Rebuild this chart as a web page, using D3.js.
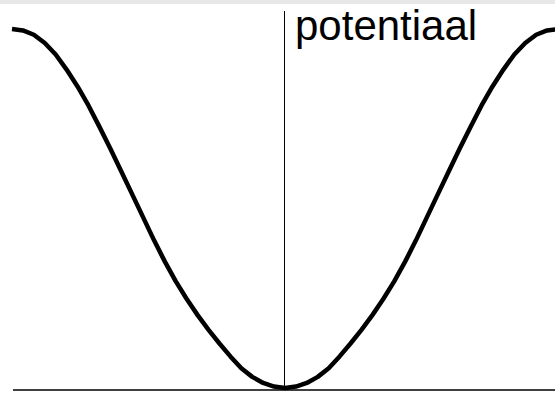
<!DOCTYPE html>
<html>
<head>
<meta charset="utf-8">
<script src="https://cdn.jsdelivr.net/npm/d3@7"></script>
<style>
  body { margin: 0; background: #fff; }
  svg { display: block; }
</style>
</head>
<body>
<div id="chart"></div>
<script>
// positions along the axis (left to right), symmetric around 0
var positions = d3.range(-25, 26);

// potential, one half; 0 at the centre, 1 at the edges
var halfPotential = [
    0.000, 0.004, 0.014, 0.031, 0.055, 0.088, 0.124, 0.162, 0.203, 0.248,
    0.297, 0.352, 0.412, 0.476, 0.540, 0.604, 0.667, 0.728, 0.787, 0.840,
    0.887, 0.929, 0.961, 0.984, 0.996, 1.000
];

var potential = positions.map(p => halfPotential[Math.abs(p)]);

var axisLabel = "potentiaal";

function init() {
    var w = 555,
        h = 393;

    var svg = d3
        .select("#chart")
        .append("svg")
        .attr("width", w)
        .attr("height", h);

    // grey strip on top of the picture
    svg.append("rect")
        .attr("x", 0)
        .attr("y", 0)
        .attr("width", w)
        .attr("height", 4)
        .attr("fill", "#e8e8e8");

    var xScale = d3.scaleLinear()
        .domain([-25, 25])
        .range([12, 558]);

    var yScale = d3.scaleLinear()
        .domain([0, 1])
        .range([388, 29]);

    // horizontal axis
    svg.append("line")
        .attr("x1", 13)
        .attr("x2", w)
        .attr("y1", 390)
        .attr("y2", 390)
        .attr("stroke", "#000")
        .attr("stroke-width", 1.5);

    // vertical axis
    svg.append("line")
        .attr("x1", Math.round(xScale(0)) - 0.5)
        .attr("x2", Math.round(xScale(0)) - 0.5)
        .attr("y1", 11)
        .attr("y2", 390)
        .attr("stroke", "#000")
        .attr("stroke-width", 1);

    // the curve
    var line = d3.line()
        .x((d, i) => xScale(positions[i]))
        .y(d => yScale(d));

    svg.append("path")
        .datum(potential)
        .attr("d", line)
        .attr("fill", "none")
        .attr("stroke", "#000")
        .attr("stroke-width", 4.5)
        .attr("stroke-linejoin", "round");

    svg.append("text")
        .attr("x", 295)
        .attr("y", 40)
        .attr("font-family", "Liberation Sans, Arial, sans-serif")
        .attr("font-size", 42)
        .attr("fill", "#000")
        .text(axisLabel);
}

window.onload = init;
</script>
</body>
</html>
